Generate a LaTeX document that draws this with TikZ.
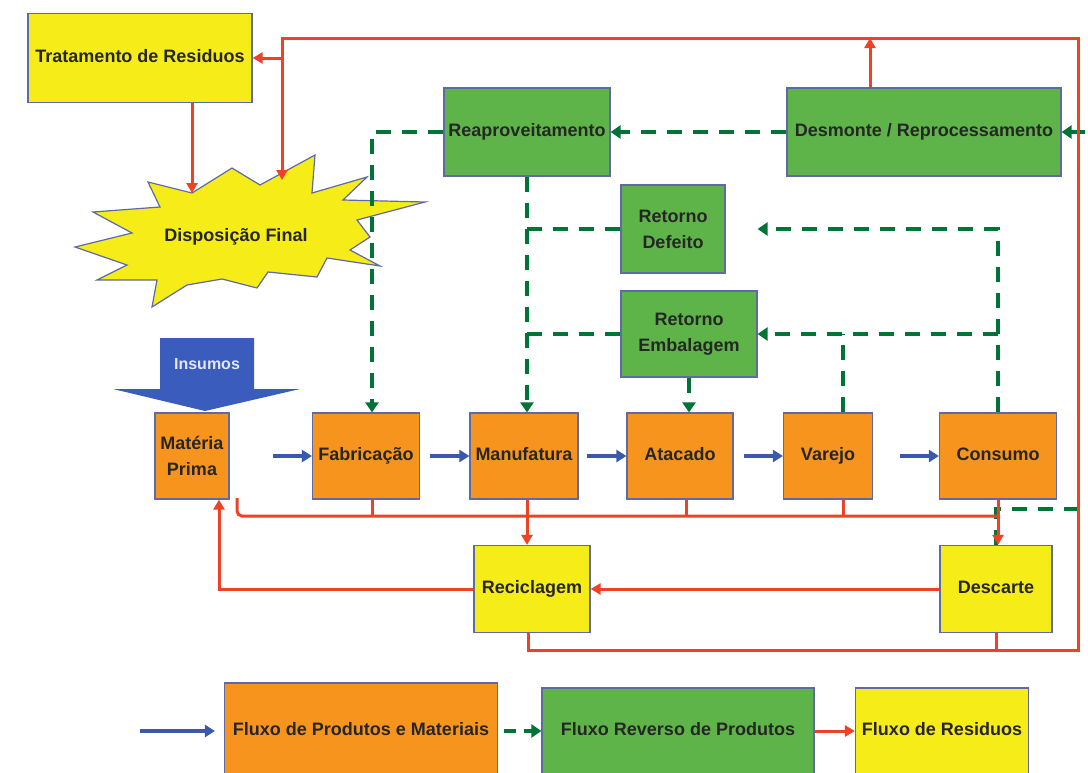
\documentclass[tikz,border=0pt]{standalone}
\usepackage{fontspec}
\setmainfont{Liberation Sans}
\usetikzlibrary{arrows.meta,calc}
\definecolor{boxorange}{RGB}{247,148,30}
\definecolor{boxyellow}{RGB}{246,236,24}
\definecolor{boxgreen}{RGB}{94,180,72}
\definecolor{boxedge}{RGB}{95,105,165}
\definecolor{wastered}{RGB}{238,66,38}
\definecolor{reversegreen}{RGB}{0,115,55}
\definecolor{productblue}{RGB}{58,88,172}
\definecolor{inputblue}{RGB}{58,92,188}
\tikzset{
    flow box/.style={
        draw=boxedge,
        line width=1.2pt,
        align=center,
        inner sep=2pt,
        font=\bfseries\fontsize{18}{26}\selectfont,
        text=black!85
    },
    single line/.style={text height=13pt, text depth=4pt},
    product box/.style={flow box, fill=boxorange},
    reverse box/.style={flow box, fill=boxgreen},
    waste box/.style={flow box, fill=boxyellow},
    product line/.style={line width=4pt, productblue,
        -{Triangle[length=10pt,width=12pt]}},
    reverse line/.style={line width=4pt, reversegreen,
        dash pattern=on 15pt off 11pt},
    reverse arrow/.style={reverse line, -{Triangle[length=10pt,width=13pt]}},
    waste line/.style={line width=3pt, wastered},
    waste arrow/.style={waste line, -{Triangle[length=10pt,width=11pt]}}
}

\begin{document}
\begin{tikzpicture}[x=1pt,y=-1pt]
    \useasboundingbox (0,0) rectangle (1088,772);
    \clip (0,0) rectangle (1088,772);
    % final disposal burst
    \draw[boxedge,line width=1.2pt,fill=boxyellow]
        (148,182)--(192,193)--(232,168)--(260,185)--(315,155)--(312,193)
        --(367,177)--(343,200)--(425,202)--(357,220)--(370,237)--(350,250)
        --(380,266)--(327,258)--(317,277)--(268,272)--(257,288)--(222,279)
        --(187,285)--(152,307)--(157,280)--(97,280)--(127,265)--(75,247)
        --(132,233)--(93,212)--(160,207)--cycle;
    \node[font=\bfseries\fontsize{18}{22}\selectfont,text=black!85]
        (disp) at (236,237) {Disposição Final};
    % inputs
    \fill[inputblue] (160,338)--(254,338)--(254,389)--(300,389)--(205,411)
        --(113,389)--(160,389)--cycle;
    \node[font=\bfseries\fontsize{16}{18}\selectfont,text=white!90!blue]
        (insumos) at (207,364) {Insumos};

    \node[waste box,single line,minimum width=224pt,minimum height=89pt] (trat) at (140,58)
        {Tratamento de Residuos};
    \node[reverse box,single line,minimum width=166pt,minimum height=88pt] (reap) at (527,132)
        {Reaproveitamento};
    \node[reverse box,single line,minimum width=274pt,minimum height=88pt] (desm) at (924,132)
        {Desmonte / Reprocessamento};
    \node[reverse box,minimum width=104pt,minimum height=88pt] (defeito) at (673,229)
        {Retorno\\Defeito};
    \node[reverse box,minimum width=136pt,minimum height=86pt] (embal) at (689,334)
        {Retorno\\Embalagem};

    \node[product box,minimum width=74pt,minimum height=86pt] (materia) at (192,456)
        {Matéria\\Prima};
    \node[product box,single line,minimum width=107pt,minimum height=86pt] (fabric) at (366,456)
        {Fabricação};
    \node[product box,single line,minimum width=108pt,minimum height=86pt] (manuf) at (524,456)
        {Manufatura};
    \node[product box,single line,minimum width=106pt,minimum height=86pt] (atac) at (680,456)
        {Atacado};
    \node[product box,single line,minimum width=89pt,minimum height=86pt] (varejo) at (828,456)
        {Varejo};
    \node[product box,single line,minimum width=117pt,minimum height=86pt] (consumo) at (998,456)
        {Consumo};

    \node[waste box,single line,minimum width=116pt,minimum height=87pt] (recicl) at (532,589)
        {Reciclagem};
    \node[waste box,single line,minimum width=112pt,minimum height=87pt] (descarte) at (996,589)
        {Descarte};

    % legend
    \node[product box,single line,minimum width=273pt,minimum height=96pt] (legprod) at (361,731)
        {Fluxo de Produtos e Materiais};
    \node[reverse box,single line,minimum width=272pt,minimum height=86pt] (legrev) at (678,731)
        {Fluxo Reverso de Produtos};
    \node[waste box,single line,minimum width=173pt,minimum height=86pt] (legwaste) at (942,731)
        {Fluxo de Residuos};

    \coordinate (topleft) at (282,38);
    \coordinate (bottomright) at (1078,650);
    \coordinate (burstA) at (192,193);
    \coordinate (burstB) at (282,180);
    \coordinate (hook) at (237,498);
    \coordinate (bus) at (0,516);
    \coordinate (revcorner) at (1094,509);
    \coordinate (legstart) at (140,731);

    % reverse flows
    \draw[reverse arrow] (descarte.north) |- (revcorner) |- (desm.east);
    \draw[reverse arrow] (desm.west) -- (reap.east);
    \draw[reverse arrow] (reap.west) -| ([xshift=6pt]fabric.north);
    \draw[reverse arrow] (reap.south) -- (reap.south |- manuf.north);
    \draw[reverse line] (defeito.west) -- (reap.south |- defeito.west);
    \draw[reverse line] (embal.west) -- (reap.south |- embal.west);
    \draw[reverse arrow] (consumo.north) |- (embal.east |- defeito.east);
    \draw[reverse arrow] (consumo.north |- embal.east) -- (embal.east);
    \draw[reverse line] ([xshift=15pt]varejo.north) -- ([xshift=15pt]varejo.north |- embal.east);
    \draw[reverse arrow] (embal.south) -- (embal.south |- atac.north);

    % product flows
    \foreach \n in {fabric,manuf,atac,varejo,consumo}
        \draw[product line] ([xshift=-39pt]\n.west) -- (\n.west);

    % waste flows
    \draw[waste line,rounded corners=5pt] (hook) |- (consumo.south |- bus);
    \foreach \n/\dx in {fabric/6,atac/6,varejo/15}
        \draw[waste line] ([xshift=\dx pt]\n.south) -- ([xshift=\dx pt]\n.south |- bus);
    \draw[waste arrow] ([xshift=3pt]manuf.south) -- ([xshift=3pt]manuf.south |- recicl.north);
    \draw[waste arrow] (consumo.south) -- (consumo.south |- descarte.north);
    \draw[waste arrow] (descarte.west) -- (recicl.east);
    \draw[waste arrow] (recicl.west) -| ([xshift=27pt]materia.south);
    \draw[waste line] (descarte.south) -- (descarte.south |- bottomright);
    \draw[waste arrow] ([xshift=-4pt]recicl.south) |- (bottomright) |- (topleft) -- (burstB);
    \draw[waste arrow] (topleft |- trat.east) -- (trat.east);
    \draw[waste arrow] ([xshift=52pt]trat.south) -- (burstA);
    \draw[waste arrow] ([xshift=-54pt]desm.north) -- ([xshift=-54pt]desm.north |- topleft);

    % legend arrows
    \draw[product line] (legstart) -- ([xshift=-9pt]legprod.west);
    \draw[reverse arrow,dash pattern=on 12pt off 8pt] ([xshift=6pt]legprod.east) -- (legrev.west);
    \draw[waste arrow] (legrev.east) -- (legwaste.west);
\end{tikzpicture}
\end{document}
